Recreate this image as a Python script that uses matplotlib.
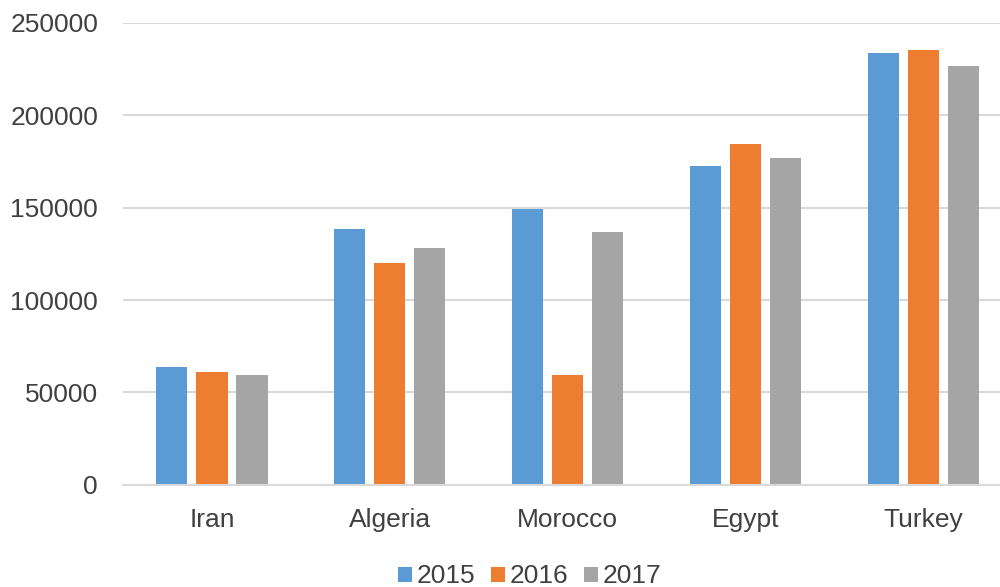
import numpy as np
import matplotlib
matplotlib.use("Agg")
import matplotlib.pyplot as plt

# Values per country and year
countries = ["Iran", "Algeria", "Morocco", "Egypt", "Turkey"]
years = ["2015", "2016", "2017"]
v2015 = [63900, 138400, 149300, 172600, 233900]
v2016 = [60900, 120200, 59500, 184200, 235600]
v2017 = [59600, 128100, 136800, 176900, 226500]
yticks = [0, 50000, 100000, 150000, 200000, 250000]

colors = ["#5B9BD5", "#ED7D31", "#A5A5A5"]
plt.rcParams["font.family"] = ["Liberation Sans", "DejaVu Sans"]

fig = plt.figure(figsize=(10, 5.87), dpi=100)
ax = fig.add_axes([0.123, 0.174, 0.877, 0.787])

x = np.arange(len(countries))
width = 0.175
step = 0.225
for i, (vals, yr) in enumerate(zip([v2015, v2016, v2017], years)):
  ax.bar(x + (i - 1) * step, vals, width, color=colors[i], label=yr, zorder=3)

ax.set_xlim(-0.5, 4.43)
ax.set_ylim(0, 250000)
ax.set_yticks(yticks)
ax.set_yticklabels([str(t) for t in yticks])
ax.set_xticks(x)
ax.set_xticklabels(countries)
ax.tick_params(axis="y", length=0, pad=18, labelsize=19, labelcolor="#404040")
ax.tick_params(axis="x", length=0, pad=17, labelsize=19, labelcolor="#404040")

# gridlines and frame
ax.grid(axis="y", color="#d9d9d9", linewidth=1.5, zorder=0)
for s in ["top", "right", "left"]:
  ax.spines[s].set_visible(False)
ax.spines["bottom"].set_color("#d9d9d9")
ax.spines["bottom"].set_linewidth(1.5)
ax.spines["bottom"].set_zorder(4)

fig.legend(loc="center", bbox_to_anchor=(0.53, 0.018), ncol=3, frameon=False,
           fontsize=19, handlelength=0.5, handleheight=0.5, handletextpad=0.2,
           columnspacing=0.6, labelcolor="#404040")

fig.savefig("out.png", dpi=100)
